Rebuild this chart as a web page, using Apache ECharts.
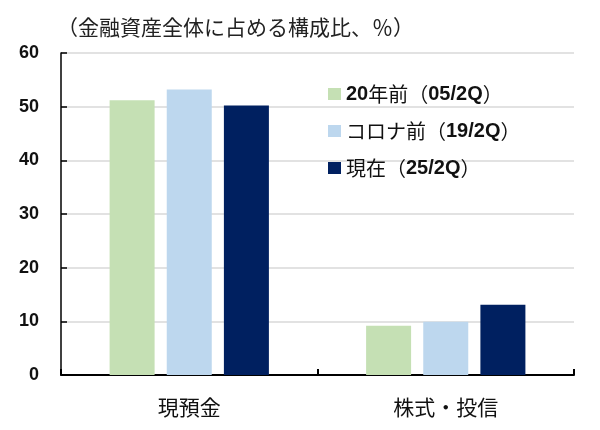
<!DOCTYPE html>
<html>
<head>
<meta charset="utf-8">
<script src="https://cdn.jsdelivr.net/npm/echarts@6/dist/echarts.min.js"></script>
<style>
html,body{margin:0;padding:0;background:#fff;}
#chart{width:600px;height:430px;}
</style>
</head>
<body>
<div id="chart"></div>
<script>
const titleText = '（金融資産全体に占める構成比、％）';
const categories = ['現預金', '株式・投信'];
const seriesNames = ['20年前（05/2Q）', 'コロナ前（19/2Q）', '現在（25/2Q）'];
const values20yAgo = [51.2, 9.2];
const valuesPreCovid = [53.2, 9.9];
const valuesNow = [50.2, 13.1];
const seriesColors = ['#c5e0b4', '#bdd7ee', '#002060'];
const yMin = 0, yMax = 60, yInterval = 10;

const cjk = '"Noto Sans CJK JP", "Noto Sans CJK SC", sans-serif';
const latin = '"Liberation Sans", Arial, sans-serif';

function richify(s) {
  return s.replace(/([\x20-\x7e]+)/g, '{a|$1}');
}

const seriesData = [values20yAgo, valuesPreCovid, valuesNow];

const chart = echarts.init(document.getElementById('chart'), null, {renderer: 'canvas'});
chart.setOption({
  animation: false,
  backgroundColor: '#ffffff',
  title: {
    text: titleText,
    left: 52,
    top: 12,
    textStyle: {fontFamily: cjk, fontSize: 21, fontWeight: 'normal', color: '#222'}
  },
  legend: {
    orient: 'vertical',
    left: 323,
    top: 78,
    itemWidth: 13,
    itemHeight: 12,
    itemGap: 15,
    icon: 'rect',
    data: seriesNames,
    formatter: richify,
    textStyle: {
      fontFamily: cjk, fontSize: 20, color: '#111', lineHeight: 22,
      rich: {a: {fontFamily: latin, fontWeight: 'bold', fontSize: 20, color: '#111', lineHeight: 22}}
    }
  },
  grid: {left: 61, right: 26, top: 53, bottom: 55, containLabel: false},
  xAxis: {
    type: 'category',
    data: categories,
    axisLine: {lineStyle: {color: '#000', width: 2}},
    axisTick: {show: true, inside: true, length: 6, lineStyle: {color: '#000', width: 2}},
    axisLabel: {fontFamily: cjk, fontSize: 21, color: '#111', margin: 22}
  },
  yAxis: {
    type: 'value',
    min: yMin, max: yMax, interval: yInterval,
    axisLine: {show: true, lineStyle: {color: '#000', width: 1.5}},
    axisTick: {show: true, inside: true, length: 6, lineStyle: {color: '#000', width: 1.5}},
    axisLabel: {fontFamily: latin, fontSize: 18, fontWeight: 'bold', color: '#111', margin: 22},
    splitLine: {show: true, lineStyle: {color: '#d9d9d9', width: 1.5}}
  },
  series: seriesNames.map((name, i) => ({
    name: name,
    type: 'bar',
    data: seriesData[i],
    barWidth: 45,
    barGap: '27%',
    itemStyle: {color: seriesColors[i]}
  }))
});
</script>
</body>
</html>
